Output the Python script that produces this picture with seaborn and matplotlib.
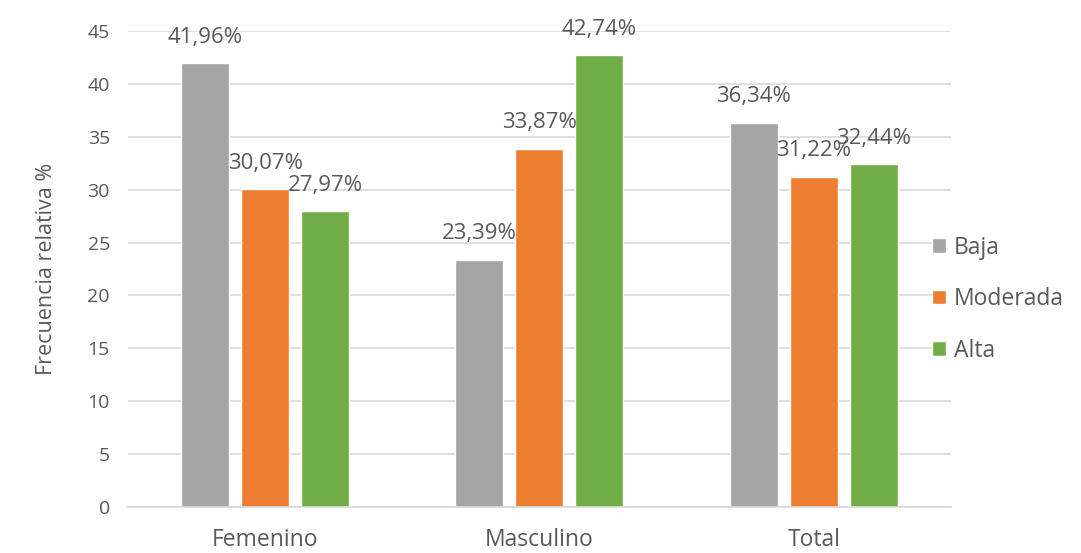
import matplotlib
matplotlib.use("Agg")
import matplotlib.pyplot as plt
import seaborn as sns
import pandas as pd

# Relative frequency (%) by sex and level
categories = ["Femenino", "Masculino", "Total"]
levels = ["Baja", "Moderada", "Alta"]
baja = [41.96, 23.39, 36.34]
moderada = [30.07, 33.87, 31.22]
alta = [27.97, 42.74, 32.44]
y_ticks = [0, 5, 10, 15, 20, 25, 30, 35, 40, 45]

palette = {"Baja": "#A5A5A5", "Moderada": "#ED7D31", "Alta": "#70AD47"}
text_color = "#595959"
grid_color = "#D9D9D9"

rows = []
for lvl, vals in zip(levels, [baja, moderada, alta]):
    for cat, v in zip(categories, vals):
        rows.append({"Sexo": cat, "Nivel": lvl, "Valor": v})
df = pd.DataFrame(rows)

sns.set_theme(style="white")
plt.rcParams["font.family"] = ["Open Sans", "DejaVu Sans"]

fig = plt.figure(figsize=(10.81, 5.53), dpi=100)
ax = fig.add_axes([0.1184, 0.0832, 0.7613, 0.8608])

sns.barplot(data=df, x="Sexo", y="Valor", hue="Nivel", order=categories,
            hue_order=levels, palette=palette, width=0.656, gap=0.2,
            errorbar=None, ax=ax, saturation=1)

ax.set_ylim(0, 45)
ax.set_yticks(y_ticks)
ax.set_xlim(-0.5, 2.5)
ax.yaxis.grid(True, color=grid_color, linewidth=1.2)
ax.set_axisbelow(True)
for s in ["top", "right", "left"]:
    ax.spines[s].set_visible(False)
ax.spines["bottom"].set_color(grid_color)
ax.spines["bottom"].set_linewidth(1.2)
ax.tick_params(axis="both", length=0, colors=text_color)
ax.tick_params(axis="y", labelsize=14, pad=13)
ax.tick_params(axis="x", labelsize=16.5, pad=15)
ax.set_xlabel("")
ax.set_ylabel("Frecuencia relativa %", fontsize=15.5, color=text_color,
              labelpad=22)

# value labels above each bar
for container in ax.containers:
    labels = [f"{v:.2f}%".replace(".", ",") for v in container.datavalues]
    ax.bar_label(container, labels=labels, padding=11, fontsize=16,
                 color=text_color)

leg = ax.legend(loc="center left", bbox_to_anchor=(0.8625, 0.459),
                bbox_transform=fig.transFigure, frameon=True,
                fontsize=16.5, handlelength=0.6, handleheight=0.6,
                handletextpad=0.35, labelspacing=1.2, borderpad=0.0,
                borderaxespad=0.0)
leg.get_frame().set_edgecolor("none")
leg.get_frame().set_facecolor("white")
leg.get_frame().set_alpha(1)
for t in leg.get_texts():
    t.set_color(text_color)

fig.savefig("out.png", dpi=100)
